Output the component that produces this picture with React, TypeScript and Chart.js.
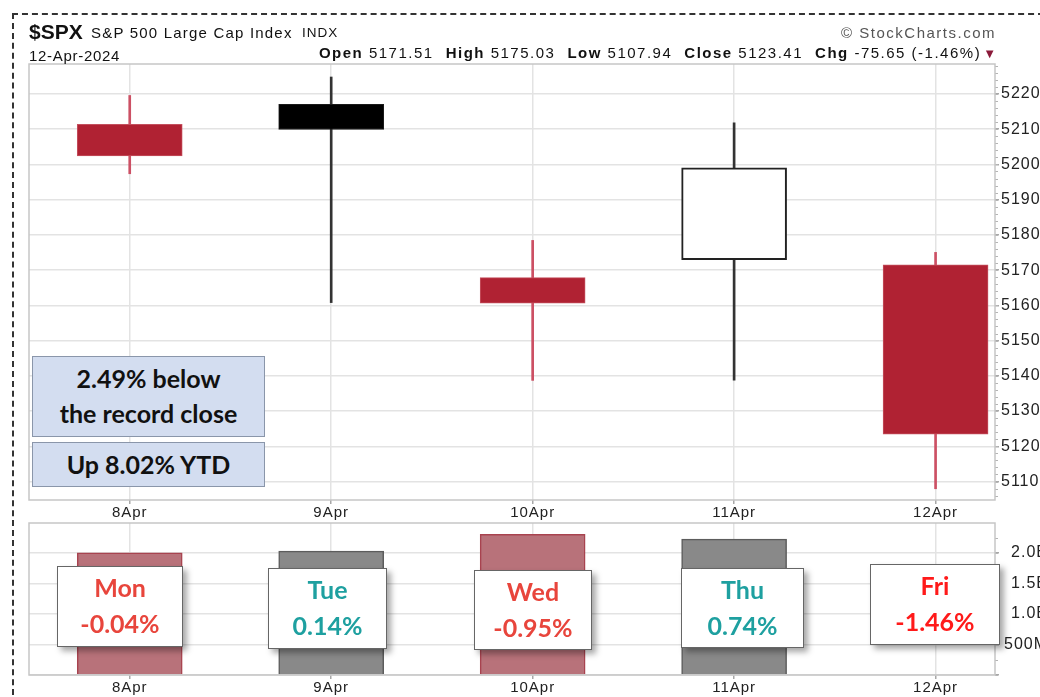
import React, { useEffect, useRef } from 'react';
import { Chart, registerables } from 'chart.js';

Chart.register(...registerables);

// ---------- data ----------
const days = ['8Apr', '9Apr', '10Apr', '11Apr', '12Apr'];
const opens = [5211.37, 5217.03, 5167.88, 5172.95, 5171.51];
const highs = [5219.57, 5224.81, 5178.43, 5211.78, 5175.03];
const lows = [5197.35, 5160.78, 5138.7, 5138.77, 5107.94];
const closes = [5202.39, 5209.91, 5160.64, 5199.06, 5123.41];
const prevClose = 5204.34;
const volumes: (number | null)[] = [2.0e9, 2.03e9, 2.305e9, 2.225e9, null];
const volTickValues = [5e8, 1e9, 1.5e9, 2e9];
const volTickLabels = ['500M', '1.0B', '1.5B', '2.0B'];
const weekdays = ['Mon', 'Tue', 'Wed', 'Thu', 'Fri'];
const dayChanges = ['-0.04%', '0.14%', '-0.95%', '0.74%', '-1.46%'];
const ohlcLabels = ['Open', 'High', 'Low', 'Close', 'Chg'];
const ohlcValues = ['5171.51', '5175.03', '5107.94', '5123.41', '-75.65 (-1.46%)'];
const notes = ['2.49% below', 'the record close'];
const ytdNote = 'Up 8.02% YTD';

// axis ranges
const xMin = -0.5;
const xMax = 4.295;
const priceMin = 5104.75;
const priceMax = 5228.5;
const volMax = 2.49e9;

// ---------- styles ----------
const SANS = '"Liberation Sans", Arial, sans-serif';
const LATO = 'Lato, "Open Sans", sans-serif';
const RED = '#b02233';
const VOL_W = 1048;

const isUpDay = (i: number) => closes[i] >= (i === 0 ? prevClose : closes[i - 1]);
const hollow = (i: number) => closes[i] > opens[i];
const bodyFill = days.map((_, i) => (hollow(i) ? '#ffffff' : isUpDay(i) ? '#000000' : RED));
const bodyBorder = days.map((_, i) => (hollow(i) ? '#222222' : isUpDay(i) ? '#1a1a1a' : '#c4505e'));
const bodyBorderW = days.map((_, i) => (hollow(i) ? 2 : 1));
const wickColor = days.map((_, i) => (isUpDay(i) ? '#333333' : '#cc5064'));
const volFill = days.map((_, i) => (isUpDay(i) ? '#898989' : '#b8727a'));
const volBorder = days.map((_, i) => (isUpDay(i) ? '#5c5c5c' : '#a8434f'));

const dayColors = ['#e8453c', '#1ea0a0', '#e8453c', '#1ea0a0', '#ff1a1a'];
const dayBoxes = [
  { left: 57, top: 566, width: 126, height: 81 },
  { left: 268, top: 568, width: 119, height: 81 },
  { left: 474, top: 570, width: 118, height: 80 },
  { left: 681, top: 568, width: 123, height: 80 },
  { left: 870, top: 564, width: 130, height: 81 },
];

const framePlugin = {
  id: 'frame',
  beforeUpdate(chart: any) {
    chart.ctx.letterSpacing = '1px';
  },
  beforeDraw(chart: any) {
    chart.ctx.letterSpacing = '1px';
  },
  afterDraw(chart: any, _args: any, opts: any) {
    const { ctx, chartArea: a } = chart;
    const ys = chart.scales.y;
    ctx.save();
    ctx.strokeStyle = '#b4b4b4';
    ctx.lineWidth = 1;
    const step = opts.minorStep;
    const s = Math.ceil(ys.min / step);
    const e = Math.floor(ys.max / step);
    for (let k = s; k <= e; k++) {
      const py = Math.round(ys.getPixelForValue(k * step)) + 0.5;
      ctx.beginPath();
      ctx.moveTo(a.right, py);
      ctx.lineTo(a.right + 3, py);
      ctx.stroke();
    }
    ctx.strokeStyle = '#c6c6c6';
    ctx.lineWidth = 1.5;
    ctx.strokeRect(a.left, a.top, a.right - a.left, a.bottom - a.top);
    ctx.restore();
  },
};

const fixSize = (w: number | null, h: number | null) => (scale: any) => {
  if (w !== null) scale.width = w;
  if (h !== null) scale.height = h;
  scale.paddingTop = 0;
  scale.paddingBottom = 0;
  scale.paddingLeft = 0;
  scale.paddingRight = 0;
};

const xScale = (height: number) => ({
  type: 'linear' as const,
  position: 'bottom' as const,
  min: xMin,
  max: xMax,
  offset: false,
  afterFit: fixSize(null, height),
  afterBuildTicks: (scale: any) => {
    scale.ticks = days.map((_, i) => ({ value: i }));
  },
  border: { display: false },
  grid: { color: '#e3e3e3', lineWidth: 1.5, tickLength: 4, tickColor: '#a8a8a8', offset: false },
  ticks: {
    stepSize: 1,
    includeBounds: false,
    autoSkip: false,
    maxRotation: 0,
    padding: 0,
    color: '#222',
    font: { family: SANS, size: 15 },
    callback: (v: any) => days[v] ?? '',
  },
});

export default function App() {
  const priceRef = useRef<HTMLCanvasElement>(null);
  const volRef = useRef<HTMLCanvasElement>(null);

  useEffect(() => {
    const pc = new Chart(priceRef.current as HTMLCanvasElement, {
      type: 'bar',
      data: {
        datasets: [
          {
            label: 'range',
            data: days.map((_, i) => ({ x: i, y: [lows[i], highs[i]] })) as any,
            backgroundColor: wickColor,
            borderWidth: 0,
            barThickness: 2,
            grouped: false,
            order: 2,
          },
          {
            label: 'body',
            data: days.map((_, i) => ({ x: i, y: [opens[i], closes[i]] })) as any,
            backgroundColor: bodyFill,
            borderColor: bodyBorder,
            borderWidth: bodyBorderW,
            borderSkipped: false,
            barThickness: 105,
            grouped: false,
            order: 1,
          },
        ],
      },
      options: {
        responsive: false,
        animation: false,
        devicePixelRatio: 1,
        events: [],
        layout: { padding: { left: 29, top: 64, right: 0, bottom: 0 } },
        plugins: { legend: { display: false }, tooltip: { enabled: false }, frame: { minorStep: 2 } } as any,
        scales: {
          x: xScale(20) as any,
          y: {
            type: 'linear',
            position: 'right',
            min: priceMin,
            max: priceMax,
            beginAtZero: false,
            afterFit: fixSize(45, null),
            border: { display: false },
            grid: { color: '#e3e3e3', lineWidth: 1.5, tickLength: 4, tickColor: '#a8a8a8' },
            ticks: {
              stepSize: 10,
              includeBounds: false,
              padding: 2,
              color: '#222',
              font: { family: SANS, size: 16 },
              callback: (v: any) => String(Math.round(v)),
            },
          } as any,
        },
      },
      plugins: [framePlugin],
    });

    const vc = new Chart(volRef.current as HTMLCanvasElement, {
      type: 'bar',
      data: {
        datasets: [
          {
            label: 'volume',
            data: days.map((_, i) => ({ x: i, y: volumes[i] })) as any,
            backgroundColor: volFill,
            borderColor: volBorder,
            borderWidth: 1.5,
            borderSkipped: 'bottom',
            barThickness: 105,
            grouped: false,
          },
        ],
      },
      options: {
        responsive: false,
        animation: false,
        devicePixelRatio: 1,
        events: [],
        layout: { padding: { left: 29, top: 3, right: 0, bottom: 0 } },
        plugins: { legend: { display: false }, tooltip: { enabled: false }, frame: { minorStep: 2.5e8 } } as any,
        scales: {
          x: xScale(22) as any,
          y: {
            type: 'linear',
            position: 'right',
            min: 0,
            max: volMax,
            afterFit: fixSize(VOL_W - 995, null),
            afterBuildTicks: (scale: any) => {
              scale.ticks = [0, ...volTickValues].map((value) => ({ value }));
            },
            border: { display: false },
            grid: { color: '#e3e3e3', lineWidth: 1.5, tickLength: 4, tickColor: '#a8a8a8' },
            ticks: {
              stepSize: 5e8,
              includeBounds: false,
              padding: 4,
              crossAlign: 'far',
              color: '#222',
              font: { family: SANS, size: 16 },
              callback: (v: any) => {
                const k = volTickValues.indexOf(v);
                return k >= 0 ? volTickLabels[k] : '';
              },
            },
          } as any,
        },
      },
      plugins: [framePlugin],
    });

    return () => {
      pc.destroy();
      vc.destroy();
    };
  }, []);

  const txt = (extra: React.CSSProperties): React.CSSProperties => ({
    position: 'absolute',
    fontFamily: SANS,
    whiteSpace: 'nowrap',
    color: '#111',
    ...extra,
  });

  return (
    <div
      style={{
        position: 'fixed',
        left: 0,
        top: 0,
        width: 1040,
        height: 697,
        overflow: 'hidden',
        background: '#ffffff',
      }}
    >
      <canvas ref={priceRef} width={1040} height={520} style={{ position: 'absolute', left: 0, top: 0 }} />
      <canvas ref={volRef} width={VOL_W} height={177} style={{ position: 'absolute', left: 0, top: 520 }} />

      {/* outer dashed frame */}
      <div
        style={{
          position: 'absolute',
          left: 12,
          top: 13,
          width: 1040,
          height: 700,
          borderTop: '2px dashed #333',
          borderLeft: '2px dashed #333',
          pointerEvents: 'none',
        }}
      />

      {/* header */}
      <div style={txt({ left: 29, top: 21, fontSize: 21, lineHeight: '21px', fontWeight: 700 })}>$SPX</div>
      <div style={txt({ left: 91, top: 25, fontSize: 15, lineHeight: '15px', letterSpacing: '1.2px' })}>
        S&amp;P 500 Large Cap Index
      </div>
      <div style={txt({ left: 302, top: 26, fontSize: 13.5, lineHeight: '13.5px', letterSpacing: '1px' })}>INDX</div>
      <div style={txt({ left: 29, top: 48, fontSize: 15, lineHeight: '15px', letterSpacing: '0.7px' })}>12-Apr-2024</div>
      <div
        style={txt({
          right: 1040 - 996,
          top: 58 - 12.7,
          fontSize: 15,
          lineHeight: '15px',
          letterSpacing: '1.5px',
          display: 'flex',
          alignItems: 'baseline',
        })}
      >
        {ohlcLabels.map((l, i) => (
          <span key={l} style={{ marginLeft: i === 0 ? 0 : 12 }}>
            <b>{l}</b> {ohlcValues[i]}
          </span>
        ))}
        <span style={{ color: '#8b1a3a', fontSize: 13, marginLeft: 2, letterSpacing: 0 }}>▼</span>
      </div>
      <div
        style={txt({
          right: 1040 - 996,
          top: 25,
          fontSize: 15,
          lineHeight: '15px',
          letterSpacing: '1.5px',
          color: '#555',
        })}
      >
        © StockCharts.com
      </div>

      {/* annotation boxes */}
      <div
        style={{
          position: 'absolute',
          left: 32,
          top: 356,
          width: 231,
          height: 79,
          background: '#d3ddf0',
          border: '1px solid #8a96aa',
          fontFamily: LATO,
          fontWeight: 700,
          fontSize: 25,
          lineHeight: '34.5px',
          textAlign: 'center',
          color: '#111',
        }}
      >
        <div style={{ paddingTop: 4 }}>
          {notes.map((n) => (
            <div key={n}>{n}</div>
          ))}
        </div>
      </div>
      <div
        style={{
          position: 'absolute',
          left: 32,
          top: 442,
          width: 231,
          height: 43,
          background: '#d3ddf0',
          border: '1px solid #8a96aa',
          fontFamily: LATO,
          fontWeight: 700,
          fontSize: 25,
          lineHeight: '34.5px',
          textAlign: 'center',
          color: '#111',
        }}
      >
        <div style={{ paddingTop: 3.5 }}>{ytdNote}</div>
      </div>

      {/* day boxes */}
      {weekdays.map((d, i) => (
        <div
          key={d}
          style={{
            position: 'absolute',
            left: dayBoxes[i].left,
            top: dayBoxes[i].top,
            width: dayBoxes[i].width - 2,
            height: dayBoxes[i].height - 2,
            background: '#ffffff',
            border: '1px solid #666',
            boxShadow: '4px 4px 6px rgba(0,0,0,0.35)',
            fontFamily: LATO,
            fontWeight: 700,
            fontSize: 25,
            lineHeight: '36px',
            textAlign: 'center',
            color: dayColors[i],
          }}
        >
          <div style={{ paddingTop: 2 }}>
            <div>{d}</div>
            <div>{dayChanges[i]}</div>
          </div>
        </div>
      ))}
    </div>
  );
}
